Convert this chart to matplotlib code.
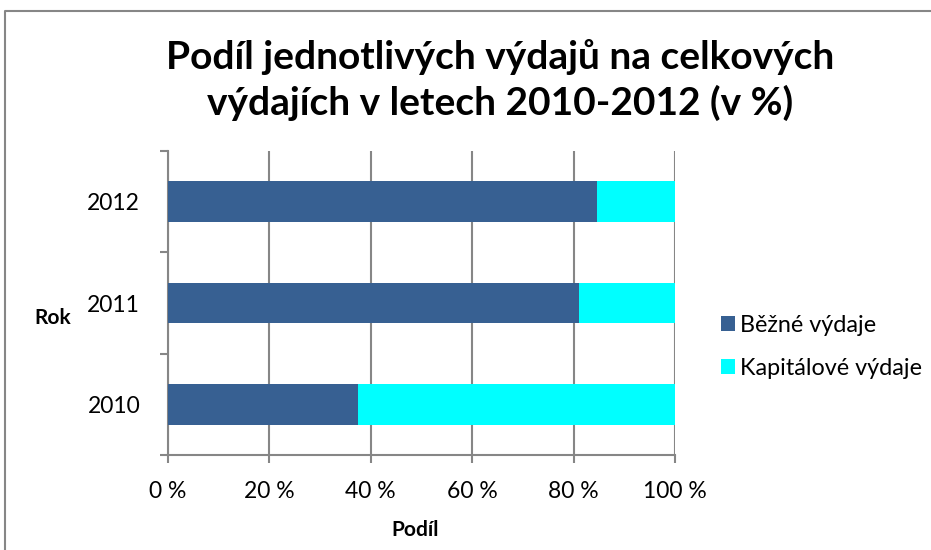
import numpy as np
import matplotlib.pyplot as plt
from matplotlib.lines import Line2D

# data (shares in %)
years = ['2010', '2011', '2012']
bezne = [37.5, 81.0, 84.6]
kapitalove = [100 - v for v in bezne]
x_ticks = [0, 20, 40, 60, 80, 100]
x_labels = ['0 %', '20 %', '40 %', '60 %', '80 %', '100 %']

plt.rcParams['font.family'] = ['Lato', 'DejaVu Sans']

fig = plt.figure(figsize=(9.31, 5.5), dpi=100)
ax = fig.add_axes([168/931, 95/550, 507/931, 304/550])

grey = '#868686'
y = np.arange(len(years))
ax.barh(y, bezne, height=0.4, color='#376092', label='Běžné výdaje', zorder=3)
ax.barh(y, kapitalove, left=bezne, height=0.4, color='#00FFFF',
        label='Kapitálové výdaje', zorder=3)

ax.set_xlim(0, 100)
ax.set_ylim(-0.5, 2.5)
ax.set_xticks(x_ticks)
ax.set_xticklabels(x_labels, fontsize=16.5)
ax.set_yticks([-0.5, 0.5, 1.5, 2.5])
ax.set_yticklabels([])
ax.set_yticks(y, minor=True)
ax.set_yticklabels(years, minor=True, fontsize=16.5)
ax.tick_params(axis='y', which='major', length=6, width=1.5, color=grey)
ax.tick_params(axis='y', which='minor', length=0, pad=20)
ax.tick_params(axis='x', length=6, width=1.5, color=grey, pad=13)

ax.grid(axis='x', color=grey, linewidth=1.5, zorder=0)
for s in ['top', 'right']:
    ax.spines[s].set_visible(False)
for s in ['left', 'bottom']:
    ax.spines[s].set_color(grey)
    ax.spines[s].set_linewidth(1.5)

fig.text(415/931, 1 - 530/550, 'Podíl', ha='center', va='center',
         fontsize=15, fontweight='bold')
fig.text(53/931, 1 - 318/550, 'Rok', ha='center', va='center',
         fontsize=15, fontweight='bold')
fig.text(500/931, 1 - 80/550,
         'Podíl jednotlivých výdajů na celkových\nvýdajích v letech 2010-2012 (v %)',
         ha='center', va='center', fontsize=28, fontweight='bold',
         linespacing=1.3)

ax.legend(loc='center left', bbox_to_anchor=(700/931, 1 - 347/550),
          bbox_transform=fig.transFigure, frameon=False, fontsize=16.8,
          handlelength=0.6, handleheight=0.6, handletextpad=0.2,
          labelspacing=0.95)

# chart frame (top and left edges visible, rest runs off the image)
fig.add_artist(Line2D([5/931, 5/931, 1.0], [0.0, 1 - 11/550, 1 - 11/550],
                      transform=fig.transFigure, color=grey, linewidth=1.5))

fig.savefig('out.png', dpi=100)
